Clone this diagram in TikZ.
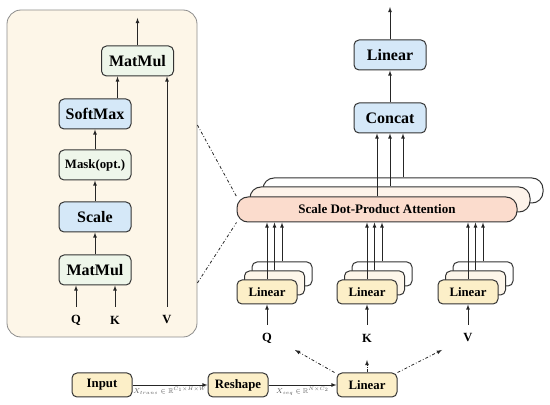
\documentclass[tikz,border=0pt]{standalone}
\usepackage{amsmath}
\usepackage{amssymb}
\usepackage{fontspec}
\setmainfont{Liberation Serif}
\usetikzlibrary{arrows, shapes}
\definecolor{panelFill}{HTML}{FDF6E8}
\definecolor{blueFill}{HTML}{D5E8F8}
\definecolor{greenFill}{HTML}{EEF6EA}
\definecolor{yellowFill}{HTML}{FCEFC8}
\definecolor{linMid}{HTML}{FDF6EA}
\definecolor{attFill}{HTML}{FBDCCD}
\definecolor{attMid}{HTML}{FDF3EA}
\tikzstyle{arrow} = [->, >=latex, line width=0.8pt, black!85]
\tikzstyle{dasharrow} = [arrow, dash dot]
\tikzstyle{box} = [draw=black!80, line width=1pt, rectangle, rounded corners=5pt, minimum width=72pt, minimum height=30pt, inner sep=0pt, font=\fontsize{16}{18}\selectfont\bfseries]
\tikzstyle{bluebox} = [box, fill=blueFill]
\tikzstyle{greenbox} = [box, fill=greenFill]
\tikzstyle{linbox} = [box, fill=yellowFill, minimum width=60pt, minimum height=24pt, font=\fontsize{12.8}{14}\selectfont\bfseries]
\tikzstyle{attbox} = [box, minimum width=280pt, minimum height=25pt, rounded corners=11pt, font=\fontsize{13}{15}\selectfont\bfseries]
\tikzstyle{letter} = [font=\fontsize{12.5}{14}\selectfont\bfseries, inner sep=0pt, minimum height=26pt]
\tikzstyle{dims} = [font=\fontsize{7}{8}\selectfont, text=black!65, inner sep=1.5pt]

\begin{document}
\begin{tikzpicture}[x=1pt, y=1pt, auto, thick]
        \useasboundingbox (0,0) rectangle (550,405);
        % attention block in detail
        \node [draw=black!45, line width=0.8pt, fill=panelFill, rounded corners=14pt, minimum width=190pt, minimum height=327pt] (panel) at (102,231.5) {};
        \node [greenbox] (mmBot) at (95,135) {MatMul};
        \node [bluebox, above of=mmBot, node distance=53pt] (scale) {Scale};
        \node [greenbox, above of=scale, node distance=52pt, font=\fontsize{12.8}{14}\selectfont\bfseries] (mask) {Mask(opt.)};
        \node [bluebox, above of=mask, node distance=51pt] (softmax) {SoftMax};
        \node [greenbox] (mmTop) at (137.5,344) {MatMul};
        \node [letter] (q) at (76,85) {Q};
        \node [letter, right of=q, node distance=39pt] (k) {K};
        \node [letter, right of=k, node distance=52pt] (v) {V};
        \coordinate (mmOut) at (137.5,387);

        \path [arrow] (q) edge (q |- mmBot.south);
        \path [arrow] (k) edge (k |- mmBot.south);
        \path [arrow] (v) edge (v |- mmTop.south);
        \path [arrow] (mmBot) edge (scale);
        \path [arrow] (scale) edge (mask);
        \path [arrow] (mask) edge (softmax);
        \path [arrow] ([xshift=-20pt]mmTop.south |- softmax.north) edge ([xshift=-20pt]mmTop.south);
        \path [arrow] (mmTop) edge (mmOut);

        % multi-head attention
        \node [bluebox] (linTop) at (390,350) {Linear};
        \node [bluebox, below of=linTop, node distance=63pt] (concat) {Concat};
        \coordinate (out) at (390,398);
        \node [attbox, fill=white] (att3) at (403,214.5) {};
        \node [attbox, fill=attMid] (att2) at (390,205.5) {};
        \node [attbox, fill=attFill] (att) at (377,195.5) {Scale Dot-Product Attention};

        \path [arrow] (concat) edge (linTop);
        \path [arrow] (linTop) edge (out);
        \path [arrow] (att.north) edge (att.north |- concat.south);
        \path [arrow] (att2.north) edge (att2.north |- concat.south);
        \path [arrow] (att3.north) edge (att3.north |- concat.south);

        \foreach \n/\x in {Q/267, K/367, V/468} {
            \node [linbox, fill=white] (lin\n3) at (\x+15,131) {};
            \node [linbox, fill=linMid] (lin\n2) at (\x+7.5,122) {};
            \node [linbox] (lin\n) at (\x,113) {Linear};
            \node [letter] (in\n) at (\x,67) {\n};
            \path [arrow] (in\n) edge (lin\n);
            \path [arrow] (lin\n) edge (lin\n |- att.south);
            \path [arrow] (lin\n2.north) edge (lin\n2.north |- att.south);
            \path [arrow] (lin\n3.north) edge (lin\n3.north |- att.south);
        }

        \path [draw, dash dot, line width=0.8pt, black!85] ([yshift=48.5pt]panel.east) -- (att.north west);
        \path [draw, dash dot, line width=0.8pt, black!85] ([yshift=-109.5pt]panel.east) -- (att.south west);

        % input path
        \node [linbox] (input) at (102,20) {Input};
        \node [linbox, right of=input, node distance=136pt] (reshape) {Reshape};
        \node [linbox, right of=reshape, node distance=129pt] (linBot) {Linear};
        \coordinate (toQ) at (295,55);
        \coordinate (toK) at (367,45);
        \coordinate (toV) at (442,55);

        \path [arrow] (input) edge node [dims, below] {$X_{trans}\in\mathbb{R}^{C_1\times H\times W}$} (reshape);
        \path [arrow] (reshape) edge node [dims, below] {$X_{seq}\in\mathbb{R}^{N\times C_2}$} (linBot);
        \path [dasharrow] ([xshift=-2pt]linBot.north west) edge (toQ);
        \path [dasharrow] (linBot) edge (toK);
        \path [dasharrow] (linBot.north east) edge (toV);
    \end{tikzpicture}
\end{document}
